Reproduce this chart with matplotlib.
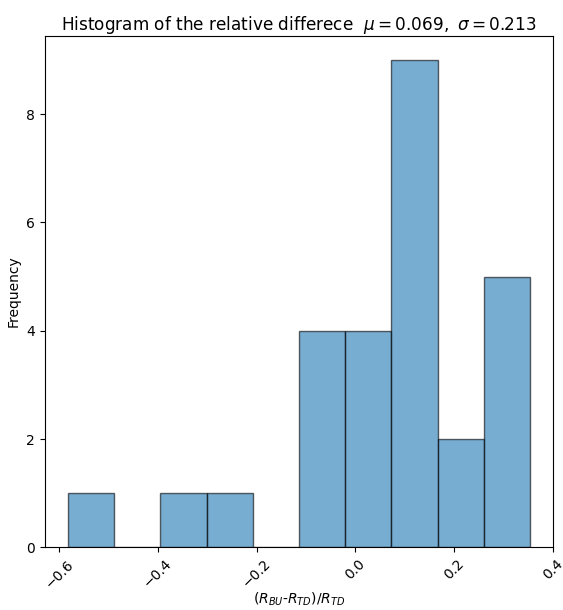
import matplotlib
matplotlib.use("Agg")
import matplotlib.pyplot as plt
import numpy as np

bin_edges = [-0.5825, -0.4889, -0.3952, -0.3016, -0.2079, -0.1143,
             -0.0206, 0.0730, 0.1667, 0.2603, 0.3540]
counts = [1, 0, 1, 1, 0, 4, 4, 9, 2, 5]

centers = [(a + b) / 2 for a, b in zip(bin_edges[:-1], bin_edges[1:])]

fig = plt.figure(figsize=(5.63, 6.1), dpi=100)
ax = fig.add_axes([0.0794, 0.1028, 0.9034, 0.8387])
ax.hist(centers, bins=bin_edges, weights=counts, color="C0", alpha=0.6,
        edgecolor="black")
ax.set_title(r"Histogram of the relative differece  $\mu=0.069,\ \sigma=0.213$",
             fontsize=12.2, pad=4)
ax.set_xlabel(r"$(R_{BU}$-$R_{TD})/R_{TD}$", labelpad=0)
ax.set_ylabel("Frequency")
plt.setp(ax.get_xticklabels(), rotation=45)
fig.savefig("out.png", dpi=100)
